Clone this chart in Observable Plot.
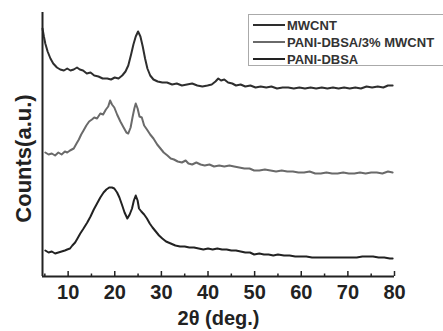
<!DOCTYPE html>
<html>
<head>
<meta charset="utf-8">
<script src="https://cdn.jsdelivr.net/npm/d3@7"></script>
<script src="https://cdn.jsdelivr.net/npm/@observablehq/plot@0.6"></script>
<style>
  html, body { margin: 0; padding: 0; background: #fff; overflow: hidden; }
  #wrap { position: relative; width: 443px; height: 331px; font-family: "Liberation Sans", Arial, sans-serif; }
  #legend { position: absolute; left: 248px; top: 14px; width: 205px; height: 52px; border: 1px solid #aaa; box-sizing: border-box; }
  .row { position: absolute; left: 4px; height: 16px; display: flex; align-items: center; font-size: 13px; font-weight: bold; color: #333; white-space: nowrap; }
  .sw { width: 32px; height: 2px; margin-right: 2px; }
</style>
</head>
<body>
<div id="wrap">
  <div id="chart"></div>
  <div id="legend"></div>
</div>
<script>
// Series names and colours
const seriesNames = ["MWCNT", "PANI-DBSA/3% MWCNT", "PANI-DBSA"];
const seriesColors = ["#2e2e2e", "#6a6a6a", "#222222"];

// MWCNT (top trace, offset arbitrary units)
const xMWCNT = [4.5,4.8,5.1,5.6,6.2,6.8,7.6,8.3,9.1,9.8,10.5,11.2,11.9,12.5,13.2,14.0,14.8,15.6,16.5,17.4,18.4,19.2,20.0,20.8,21.6,22.3,22.9,23.5,24.0,24.5,25.0,25.5,26.0,26.5,27.0,27.6,28.3,29.2,30.2,31.2,32.3,33.3,34.4,35.5,36.6,37.7,38.8,39.9,40.8,41.6,42.2,42.8,43.5,44.3,45.2,46.0,47.0,48.0,49.1,50.2,51.3,52.5,53.6,54.8,56.0,57.2,58.4,59.6,60.8,62.0,63.2,64.4,65.6,66.8,68.0,69.2,70.4,71.6,72.8,74.0,75.2,76.4,77.6,78.6,79.6];
const yMWCNT = [248,240,233,225,218,213,209,207,206,208,206,207,209,207,206,203,204,201,200,198,198,197,199,198,201,205,211,222,232,240,245,240,230,218,208,201,197,195,194,194,192,193,191,192,193,191,190,191,192,195,198,196,197,194,193,191,192,190,191,189,190,189,190,188,189,189,188,189,188,189,188,189,188,189,188,189,188,189,188,190,189,190,189,191,191];

// PANI-DBSA/3% MWCNT (middle trace)
const xComposite = [5.1,5.8,6.5,7.2,7.9,8.6,9.3,9.8,10.4,11.2,11.8,12.3,12.8,13.3,13.9,14.5,15.1,15.6,16.2,16.9,17.5,18.1,18.6,19.0,19.4,19.9,20.5,21.2,21.9,22.5,22.9,23.4,23.8,24.2,24.5,24.9,25.3,25.8,26.3,26.9,27.6,28.3,29.1,29.8,30.5,31.3,32.0,32.7,33.5,34.4,35.2,35.8,36.6,37.5,38.4,39.3,40.3,41.3,42.4,43.5,44.6,45.6,46.7,47.8,48.9,49.9,51.0,52.2,53.4,54.6,55.8,57.0,58.2,59.4,60.6,61.8,63.0,64.2,65.4,66.6,67.8,69.0,70.2,71.4,72.6,73.8,75.0,76.2,77.4,78.6,79.6];
const yComposite = [124,122,123,121,124,122,125,124,126,128,133,137,142,146,151,155,157,159,158,163,162,167,170,176,172,169,162,155,149,144,143,149,159,168,173,168,160,159,151,147,142,138,132,128,124,121,118,117,115,114,116,113,112,114,112,111,112,110,111,110,111,110,109,108,108,106,106,107,106,105,106,105,105,104,104,105,103,103,104,103,103,104,103,103,104,103,104,104,103,105,104];

// PANI-DBSA (bottom trace)
const xPANI = [5.1,5.8,6.5,7.2,7.9,8.6,9.3,9.8,10.4,10.9,11.5,12.0,12.6,13.3,14.1,14.8,15.5,16.2,16.9,17.6,18.2,18.8,19.4,19.9,20.5,21.0,21.6,22.1,22.7,23.2,23.7,24.1,24.5,24.9,25.2,25.7,26.3,26.9,27.5,28.1,28.8,29.5,30.2,31.0,32.0,33.0,34.0,35.0,36.0,37.0,38.0,39.0,40.0,41.0,42.0,43.0,44.0,45.0,46.0,47.0,48.0,49.0,49.9,51.0,52.0,53.0,54.0,55.0,56.3,57.5,58.7,59.9,61.1,62.3,63.5,64.7,65.9,67.1,68.3,69.5,70.7,71.9,73.1,74.2,75.4,76.6,77.8,79.0,79.6];
const yPANI = [26,24,25,23,24,25,26,27,28,31,34,38,43,48,54,60,67,73,79,84,87,89,89,88,84,79,71,64,58,62,68,76,81,76,68,65,62,58,53,49,45,41,38,35,33,31,30,30,29,29,28,27,28,27,28,27,27,26,26,25,24,24,22,23,22,22,21,22,21,21,20,20,20,19,19,19,19,19,19,19,19,19,20,20,20,19,19,18,18];

// Axis settings
const xDomain = [4.5, 80];
const yDomain = [0, 264];
const majorTicks = [10, 20, 30, 40, 50, 60, 70, 80];
const minorTicks = [5, 15, 25, 35, 45, 55, 65, 75];
const xLabel = "2θ (deg.)";
const yLabel = "Counts(a.u.)";

const rows = [];
const add = (xs, ys, s) => xs.forEach((x, i) => rows.push({x, y: ys[i], s}));
add(xMWCNT, yMWCNT, seriesNames[0]);
add(xComposite, yComposite, seriesNames[1]);
add(xPANI, yPANI, seriesNames[2]);

const W = 443, H = 331, mt = 12, mb = 55;
const innerH = H - mt - mb;

const chart = Plot.plot({
  width: W,
  height: H,
  marginLeft: 42,
  marginRight: 49,
  marginTop: mt,
  marginBottom: mb,
  style: {fontFamily: "'Liberation Sans', Arial, sans-serif", background: "#fff", color: "#222"},
  x: {domain: xDomain},
  y: {domain: yDomain, axis: null},
  color: {domain: seriesNames, range: seriesColors},
  marks: [
    Plot.line(rows, {x: "x", y: "y", z: "s", stroke: "s", strokeWidth: 2, strokeLinejoin: "round"}),
    Plot.ruleX([xDomain[0]], {stroke: "#222", strokeWidth: 2}),
    Plot.ruleY([yDomain[0]], {stroke: "#222", strokeWidth: 2}),
    Plot.tickX(majorTicks, {x: d => d, insetTop: innerH - 5, stroke: "#222", strokeWidth: 1.5}),
    Plot.tickX(minorTicks, {x: d => d, insetTop: innerH - 2.5, stroke: "#222", strokeWidth: 1.5}),
    Plot.axisX({ticks: majorTicks, tickSize: 0, tickPadding: 8, fontSize: 20, fontWeight: "bold", label: null}),
    Plot.text([xLabel], {frameAnchor: "bottom", dy: 42, fontSize: 20, fontWeight: "bold", fill: "#222", lineAnchor: "middle"}),
    Plot.text([yLabel], {frameAnchor: "left", textAnchor: "middle", rotate: -90, dx: -19, dy: 14, fontSize: 22, fontWeight: "bold", fill: "#222"})
  ]
});
document.getElementById("chart").appendChild(chart);

const legend = document.getElementById("legend");
const rowTops = [2, 19, 36];
seriesNames.forEach((name, i) => {
  const r = document.createElement("div");
  r.className = "row";
  r.style.top = rowTops[i] + "px";
  const sw = document.createElement("span");
  sw.className = "sw";
  sw.style.background = seriesColors[i];
  const t = document.createElement("span");
  t.textContent = name;
  r.appendChild(sw);
  r.appendChild(t);
  legend.appendChild(r);
});
</script>
</body>
</html>
